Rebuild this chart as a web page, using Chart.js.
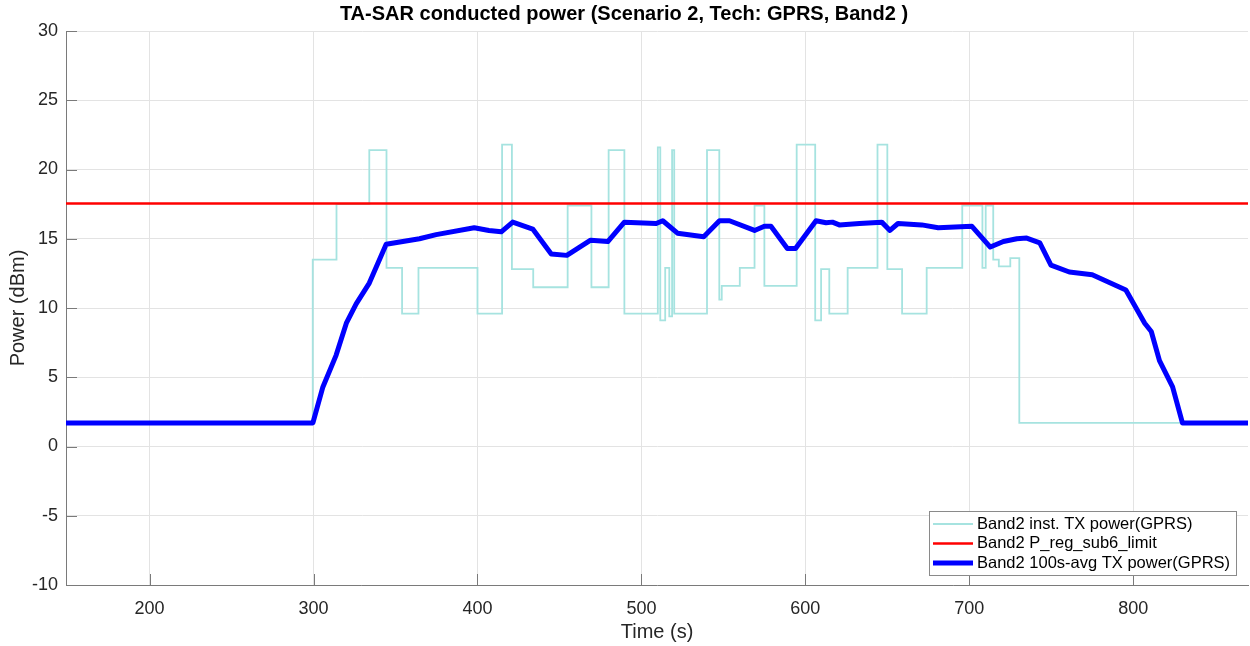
<!DOCTYPE html>
<html>
<head>
<meta charset="utf-8">
<title>TA-SAR conducted power</title>
<script src="https://cdn.jsdelivr.net/npm/chart.js@4.4.1/dist/chart.umd.min.js"></script>
<style>
  html, body { margin: 0; padding: 0; background: #fff; }
  #wrap { width: 1250px; height: 646px; }
</style>
</head>
<body>
<div id="wrap"><canvas id="taChart" width="1250" height="646"></canvas></div>
<script>
// ==================== DATA ====================
// instantaneous TX power: value holds from each time until the next one
const instTime  = [149, 299.5, 314, 334, 344.5, 354, 364, 400, 415, 421, 434, 455, 469.5, 480, 489.6,
                   510, 511.5, 514.5, 517, 518.7, 520, 540, 547.5, 549, 560, 569, 575, 594.7, 606,
                   609.6, 614.6, 625.8, 644, 650, 659, 674, 695.7, 708, 710, 714.6, 718, 725, 730.5, 870];
const instPower = [1.7, 13.5, 17.5, 21.4, 12.9, 9.6, 12.9, 9.6, 21.8, 12.8, 11.5, 17.4, 11.5, 21.4, 9.6,
                   21.6, 9.1, 12.9, 9.4, 21.4, 9.6, 21.4, 10.6, 11.6, 12.9, 17.4, 11.6, 21.8, 9.1,
                   12.8, 9.6, 12.9, 21.8, 12.8, 9.6, 12.9, 17.4, 12.9, 17.4, 13.5, 13.0, 13.6, 1.7, 1.7];

// 100 s averaged TX power
const avgTime  = [149, 299.6, 305.7, 313.8, 320, 326, 334, 344.3, 364.6, 374.8, 398, 407, 414.5, 421.5,
                  433.7, 445, 454.5, 469, 479.5, 489.6, 509, 513, 522, 538, 547.6, 553.7, 569, 575, 579,
                  589, 594, 606.5, 612.6, 616.5, 620.7, 633, 646.6, 651.6, 656.5, 671, 681, 701.6, 712.8,
                  720.8, 729, 735, 743, 749.8, 761, 775, 795.5, 807, 811, 816, 824, 830, 870];
const avgPower = [1.7, 1.7, 4.3, 6.6, 8.9, 10.3, 11.8, 14.6, 15.0, 15.3, 15.8, 15.6, 15.5, 16.2,
                  15.7, 13.9, 13.8, 14.9, 14.8, 16.2, 16.1, 16.3, 15.4, 15.15, 16.3, 16.3, 15.6, 15.9, 15.9,
                  14.3, 14.3, 16.3, 16.15, 16.2, 16.0, 16.1, 16.2, 15.6, 16.1, 16.0, 15.8, 15.9, 14.4,
                  14.8, 15.0, 15.05, 14.7, 13.1, 12.6, 12.4, 11.3, 8.9, 8.3, 6.2, 4.3, 1.7, 1.7];

const limitTime  = [149, 870];
const limitPower = [17.55, 17.55];

const seriesNames = ['Band2 inst. TX power(GPRS)', 'Band2 P_reg_sub6_limit', 'Band2 100s-avg TX power(GPRS)'];
const xTicks = [200, 300, 400, 500, 600, 700, 800];
const yTicks = [-10, -5, 0, 5, 10, 15, 20, 25, 30];

// ==================== HELPERS ====================
const FONT = "'Liberation Sans', Arial, sans-serif";
const zip = (xs, ys) => xs.map((x, i) => ({ x: x, y: ys[i] }));

// matlab style inward tick marks on left/bottom axes
const innerTicks = {
    id: 'innerTicks',
    beforeDatasetsDraw(chart) {
        const { ctx, chartArea: a, scales } = chart;
        ctx.save();
        ctx.strokeStyle = '#7a7a7a';
        ctx.lineWidth = 1;
        ctx.beginPath();
        yTicks.forEach(v => {
            const y = Math.round(scales.y.getPixelForValue(v)) + 0.5;
            ctx.moveTo(a.left, y); ctx.lineTo(a.left + 11, y);
        });
        xTicks.forEach(v => {
            const x = Math.round(scales.x.getPixelForValue(v)) + 0.5;
            ctx.moveTo(x, a.bottom); ctx.lineTo(x, a.bottom - 11);
        });
        ctx.stroke();
        ctx.restore();
    }
};

// legend box inside the plot, bottom right
const boxLegend = {
    id: 'boxLegend',
    afterDraw(chart) {
        const { ctx, chartArea: a } = chart;
        const left = 929, right = 1236, bottom = a.bottom - 10, rowH = 19.5;
        const top = bottom - 12 - rowH * 2 - 13;
        ctx.save();
        ctx.fillStyle = '#fff';
        ctx.fillRect(left, top, right - left, bottom - top);
        ctx.strokeStyle = '#8a8a8a';
        ctx.lineWidth = 1;
        ctx.strokeRect(left + 0.5, top + 0.5, right - left, bottom - top);
        ctx.font = '16.5px ' + FONT;
        ctx.textBaseline = 'middle';
        chart.data.datasets.forEach((ds, i) => {
            const y = top + 13 + i * rowH;
            ctx.strokeStyle = ds.borderColor;
            ctx.lineWidth = ds.borderWidth;
            ctx.beginPath();
            ctx.moveTo(left + 4, y); ctx.lineTo(left + 44, y);
            ctx.stroke();
            ctx.fillStyle = '#000';
            ctx.fillText(ds.label, left + 48, y);
        });
        ctx.restore();
    }
};

// ==================== CHART ====================
const ctx = document.getElementById('taChart').getContext('2d');
new Chart(ctx, {
    type: 'line',
    data: {
        datasets: [
            { label: seriesNames[0], data: zip(instTime, instPower), borderColor: '#a6e3e0', borderWidth: 1.8,
              stepped: 'before', pointRadius: 0, order: 2 },
            { label: seriesNames[1], data: zip(limitTime, limitPower), borderColor: '#ff0000', borderWidth: 2.5,
              pointRadius: 0, order: 1 },
            { label: seriesNames[2], data: zip(avgTime, avgPower), borderColor: '#0000ff', borderWidth: 5,
              pointRadius: 0, tension: 0, borderJoinStyle: 'round', order: 0 }
        ]
    },
    options: {
        responsive: false,
        devicePixelRatio: 1,
        animation: false,
        layout: { padding: { left: 0, right: 2, top: 0, bottom: 0 } },
        plugins: {
            legend: { display: false },
            tooltip: { enabled: false },
            title: {
                display: true,
                text: 'TA-SAR conducted power (Scenario 2, Tech: GPRS, Band2 )',
                color: '#000',
                font: { family: FONT, size: 20, weight: 'bold', lineHeight: 1.2 },
                padding: { top: 2, bottom: 5 }
            }
        },
        scales: {
            x: {
                type: 'linear',
                min: 149, max: 870,
                afterBuildTicks: s => { s.ticks = xTicks.map(v => ({ value: v })); },
                afterFit: s => { s.height = 61; },
                grid: { color: '#e3e3e3', drawTicks: false },
                border: { display: true, color: '#7a7a7a', width: 1 },
                ticks: { color: '#262626', font: { family: FONT, size: 18 }, padding: 13, maxRotation: 0 },
                title: { display: true, text: 'Time (s)', color: '#262626',
                         font: { family: FONT, size: 20, lineHeight: 1.2 }, padding: { top: 0, bottom: 2 } }
            },
            y: {
                min: -10, max: 30,
                afterBuildTicks: s => { s.ticks = yTicks.map(v => ({ value: v })); },
                afterFit: s => { s.width = 66; },
                grid: { color: '#e3e3e3', drawTicks: false },
                border: { display: true, color: '#7a7a7a', width: 1 },
                ticks: { color: '#262626', font: { family: FONT, size: 18 }, padding: 8 },
                title: { display: true, text: 'Power (dBm)', color: '#262626',
                         font: { family: FONT, size: 20, lineHeight: 1.2 }, padding: { top: 6, bottom: 0 } }
            }
        }
    },
    plugins: [innerTicks, boxLegend]
});
</script>
</body>
</html>
